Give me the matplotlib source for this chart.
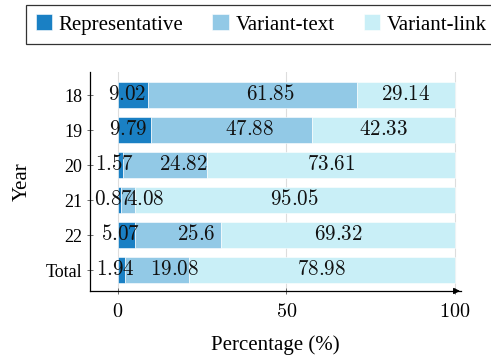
import matplotlib
matplotlib.use("Agg")
import matplotlib.pyplot as plt
import matplotlib.transforms as mtransforms
import numpy as np

categories = ["18", "19", "20", "21", "22", "Total"]
representative = [9.02, 9.79, 1.57, 0.87, 5.07, 1.94]
variant_text = [61.85, 47.88, 24.82, 4.08, 25.6, 19.08]
variant_link = [29.14, 42.33, 73.61, 95.05, 69.32, 78.98]
series_names = ["Representative", "Variant-text", "Variant-link"]
colors = ["#1a80c4", "#92c9e6", "#c9eff7"]
label_shift_px = [-6, 18, 0]

plt.rcParams['font.family'] = ['Liberation Serif', 'DejaVu Serif']
plt.rcParams['mathtext.fontset'] = 'cm'

fig = plt.figure(figsize=(4.91, 3.57), dpi=100)
ax = fig.add_axes([90/491, 1-291/357, (461-90)/491, (291-72)/357])

y = np.arange(len(categories))
left = np.zeros(len(categories))
handles = []
for vals, name, c, sh in zip([representative, variant_text, variant_link], series_names, colors, label_shift_px):
    vals = np.array(vals)
    h = ax.barh(y, vals, left=left, height=0.75, color=c, edgecolor='white', linewidth=0.4, label=name, zorder=2)
    handles.append(h)
    tr = ax.transData + mtransforms.ScaledTranslation(sh/100, 0, fig.dpi_scale_trans)
    for yi, l, v in zip(y, left, vals):
        ax.text(l + v/2, yi, f"${v:g}$", ha='center', va='center', fontsize=15.2, zorder=3,
                color='#111111', transform=tr)
    left = left + vals

ax.set_xlim(-8.3, 101.8)
ax.set_ylim(5.6, -0.66)
ax.set_yticks(y)
ax.set_yticklabels(categories, fontsize=13)
ax.set_xticks([0, 50, 100])
ax.set_xticklabels(["$0$", "$50$", "$100$"], fontsize=14.5)
ax.grid(axis='x', color='#dddddd', linewidth=0.8, zorder=0)
ax.set_axisbelow(True)
for s in ['top', 'right']:
    ax.spines[s].set_visible(False)
ax.spines['left'].set_linewidth(0.9)
ax.spines['bottom'].set_linewidth(0.9)
ax.tick_params(axis='both', direction='inout', length=5, width=0.6, color='#555555')
ax.tick_params(axis='x', pad=6)
ax.tick_params(axis='y', pad=3)
ax.annotate('', xy=(1.005, 0), xycoords='axes fraction', xytext=(0.98, 0),
            arrowprops=dict(arrowstyle='-|>', color='black', lw=0.9, mutation_scale=9))
ax.set_xlabel("Percentage (%)", fontsize=15, labelpad=10)
ax.set_ylabel("Year", fontsize=15, labelpad=10)

leg = fig.legend(handles=handles, labels=series_names, ncol=3, loc='upper center',
                 bbox_to_anchor=(261/491, 1-5/357), borderaxespad=0, fontsize=15, frameon=True,
                 fancybox=False, edgecolor='black', handlelength=0.8, handleheight=0.8,
                 handletextpad=0.3, columnspacing=1.4, borderpad=0.45)
leg.get_frame().set_linewidth(0.9)

fig.savefig("out.png", dpi=100)
